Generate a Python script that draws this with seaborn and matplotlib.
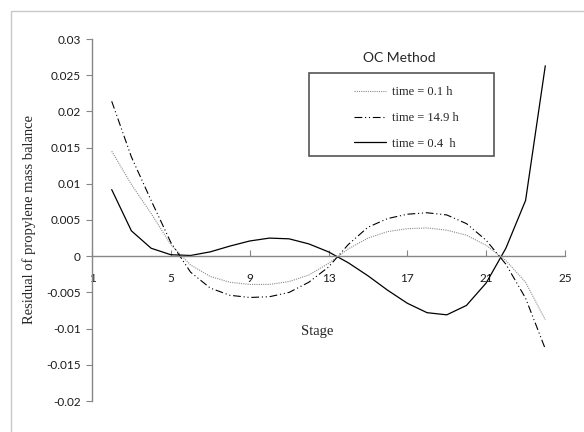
import seaborn as sns
import matplotlib.pyplot as plt
import pandas as pd
from matplotlib.patches import Rectangle
from matplotlib.ticker import FuncFormatter

# stages 2..24, values
stages = list(range(2, 25))
res_01h = [0.0145, 0.0099, 0.0059, 0.0016, -0.0012, -0.0028, -0.0036, -0.0039,
           -0.0039, -0.0035, -0.0026, -0.0010, 0.0010, 0.0025, 0.0034, 0.0038,
           0.0039, 0.0036, 0.0029, 0.0015, -0.0006, -0.0036, -0.0088]
res_149h = [0.0214, 0.0137, 0.0077, 0.0019, -0.0022, -0.0044, -0.0054, -0.0057,
            -0.0056, -0.0050, -0.0036, -0.0015, 0.0016, 0.0040, 0.0052, 0.0058,
            0.0060, 0.0057, 0.0045, 0.0022, -0.0011, -0.0058, -0.0128]
res_04h = [0.0092, 0.0035, 0.0011, 0.0002, 0.0001, 0.0006, 0.0014, 0.0021,
           0.0025, 0.0024, 0.0017, 0.0006, -0.0009, -0.0027, -0.0047, -0.0065,
           -0.0078, -0.0081, -0.0068, -0.0037, 0.0011, 0.0077, 0.0263]
labels = ["time = 0.1 h", "time = 14.9 h", "time = 0.4  h"]

x_ticks = [1, 5, 9, 13, 17, 21, 25]
y_ticks = [-0.02, -0.015, -0.01, -0.005, 0, 0.005, 0.01, 0.015, 0.02, 0.025, 0.03]

sns.set_style("ticks")
plt.rcParams['font.family'] = ['Lato', 'DejaVu Sans']

fig = plt.figure(figsize=(5.84, 4.32), dpi=100)
ax = fig.add_axes([92/584, 1-401/432, 473/584, 362/432])

styles = [
    dict(color="#8c8c8c", linestyle=(0, (1, 1)), linewidth=0.8),
    dict(color="black", linestyle=(0, (7, 2.5, 1, 2.5, 1, 2.5)), linewidth=0.8),
    dict(color="black", linestyle="-", linewidth=0.9),
]
for vals, lab, st in zip([res_01h, res_149h, res_04h], labels, styles):
    df = pd.DataFrame({"stage": stages, "residual": vals})
    sns.lineplot(data=df, x="stage", y="residual", ax=ax, label=lab, **st)

ax.set_xlim(1, 25)
ax.set_ylim(-0.02, 0.03)
ax.set_xticks(x_ticks)
ax.set_yticks(y_ticks)
ax.yaxis.set_major_formatter(FuncFormatter(lambda v, p: f"{v:g}"))

for s in ["top", "right"]:
    ax.spines[s].set_visible(False)
ax.spines["bottom"].set_position(("data", 0))
for s in ["left", "bottom"]:
    ax.spines[s].set_color("#868686")
    ax.spines[s].set_linewidth(1.0)

ax.tick_params(axis="x", direction="in", length=4, pad=12, colors="#868686",
               labelcolor="#1a1a1a", labelsize=8.5)
ax.tick_params(axis="y", direction="out", length=4, pad=4, colors="#868686",
               labelcolor="#1a1a1a", labelsize=8.5)

serif = ["Liberation Serif", "DejaVu Serif"]
ax.set_xlabel("Stage", family=serif, fontsize=10.5)
ax.xaxis.set_label_coords(0.4757, 0.21)
ax.set_ylabel("Residual of propylene mass balance", family=serif, fontsize=10.5)
ax.yaxis.set_label_coords(-0.118, 0.5)

handles, labs = ax.get_legend_handles_labels()
ax.legend(handles, labs, loc="upper left", bbox_to_anchor=(348/584, 1-80/432),
          bbox_transform=fig.transFigure, frameon=False, borderpad=0,
          handlelength=2.5, handletextpad=0.55, labelspacing=1.1,
          prop=dict(family=serif, size=9))
fig.add_artist(Rectangle((309/584, 1-156/432), 185/584, 83/432,
                         transform=fig.transFigure, fill=False,
                         edgecolor="#555555", linewidth=1.2))
fig.text(399/584, 1-58/432, "OC Method", ha="center", va="center", fontsize=10)

# outer chart frame (only top and left edges show in the picture)
fig.add_artist(Rectangle((11/584, -0.5), 2, 1.5 - 11/432,
                         transform=fig.transFigure, fill=False,
                         edgecolor="#c8c8c8", linewidth=1.0))

fig.savefig("out.png", dpi=100)
